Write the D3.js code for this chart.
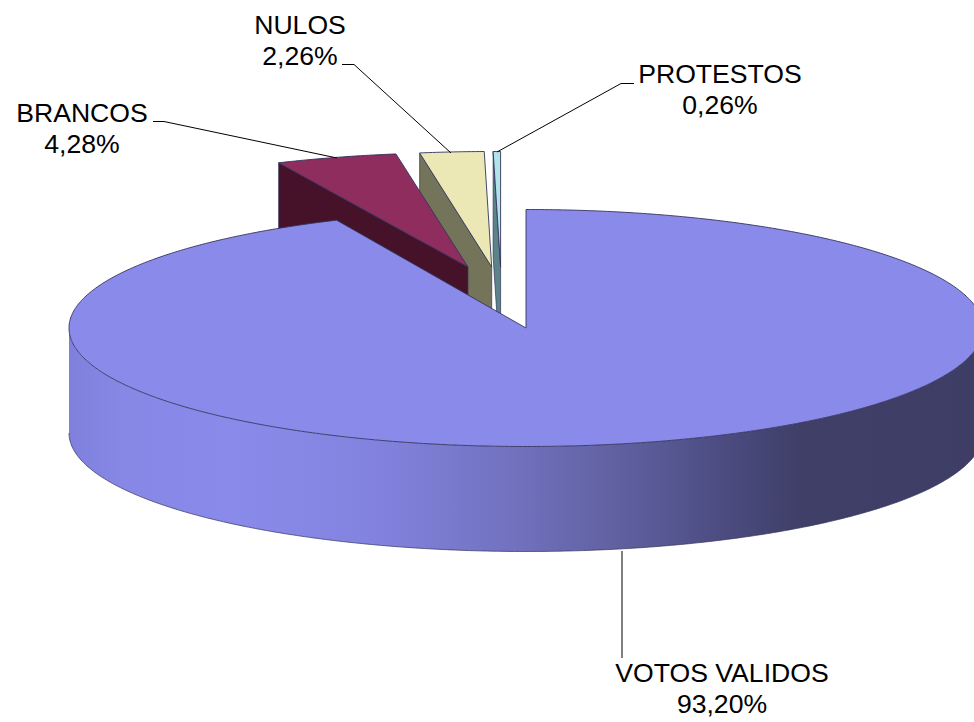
<!DOCTYPE html>
<html>
<head>
<meta charset="utf-8">
<script src="https://cdn.jsdelivr.net/npm/d3@7"></script>
<style>
	html, body { margin: 0; padding: 0; background: #fff; }
	svg { display: block; }
	text { font-family: "Liberation Sans", Arial, sans-serif; font-size: 26.6px; fill: #000; }
</style>
</head>
<body>
<svg id="chart"></svg>
<script>
/*=================
=== Data
=================*/
var categories = ['VOTOS VALIDOS', 'BRANCOS', 'NULOS', 'PROTESTOS'];
var values = [93.20, 4.28, 2.26, 0.26];
var valueLabels = ['93,20%', '4,28%', '2,26%', '0,26%'];

/*=================
=== Layout
=================*/
var width = 974;
var height = 722;

var cx = 526, cy = 328;
var rx = 457, ry = 118.5;
var depth = 105;

var topColors = ['#8a8aeb', '#8e2d5e', '#ebe8b5', '#b0e4e8'];
var wallColors = ['#3d3d66', '#45122a', '#74745a', '#5c8488'];
var edgeColor = '#33335c';

// exploded slices: where the tip lands
var tips = [[cx, cy], [468, 267], [491.7, 267], [500.6, 267]];
var sliceRy = [ry, 114.5, 115.5, 115.5];

// label anchors (centre x, first baseline)
var labelPos = [[722, 682], [82, 122], [300, 34], [720, 83]];
var lineGap = 31;

// leader lines, label end first
var leaders = [
	[[622, 658], [622, 551]],
	[[153, 121.5], [164, 121.5], [337, 158]],
	[[342, 64.5], [354, 64.5], [451, 153]],
	[[634, 83.5], [621, 83.5], [497, 152]]
];

var svg = d3.select('#chart')
	.attr('width', width)
	.attr('height', height)
	.attr('viewBox', `0 0 ${width} ${height}`);

// side wall shading runs left to right across the pie
var grad = svg.append('defs').append('linearGradient')
	.attr('id', 'wall-shade')
	.attr('gradientUnits', 'userSpaceOnUse')
	.attr('x1', cx - rx).attr('x2', cx + rx)
	.attr('y1', 0).attr('y2', 0);

[
	[0, '#7f7fdc'],
	[0.06, '#8787e6'],
	[0.18, '#8a8aeb'],
	[0.34, '#8282de'],
	[0.48, '#7272c0'],
	[0.62, '#5d5d9c'],
	[0.72, '#4b4b80'],
	[0.8, '#3f3f68'],
	[1, '#3d3d66']
].forEach(s => grad.append('stop').attr('offset', s[0]).attr('stop-color', s[1]));

/*=================
=== Slices
=================*/
var pie = d3.pie().sort(null).value(d => d);
var arcs = pie(values);

var line = d3.line();

function project(i, a, drop) {
	return [
		tips[i][0] + rx * Math.sin(a),
		tips[i][1] - sliceRy[i] * Math.cos(a) + (drop || 0)
	];
}

function rim(i, a0, a1, drop) {
	var n = Math.max(2, Math.ceil((a1 - a0) / 0.01));
	return d3.range(n + 1).map(k => project(i, a0 + (a1 - a0) * k / n, drop));
}

var pieG = svg.append('g').attr('class', 'pie');

// back to front: the small slices sit behind the big one
d3.range(arcs.length - 1, 0, -1).forEach(i => {
	var d = arcs[i];
	var g = pieG.append('g').attr('class', 'slice');
	var tip = tips[i];
	var outer = project(i, d.startAngle);

	g.append('path')
		.attr('d', line([outer, tip, [tip[0], tip[1] + depth], [outer[0], outer[1] + depth]]) + 'Z')
		.attr('fill', wallColors[i])
		.attr('stroke', edgeColor)
		.attr('stroke-width', 0.7);

	g.append('path')
		.attr('d', line([tip].concat(rim(i, d.startAngle, d.endAngle))) + 'Z')
		.attr('fill', topColors[i])
		.attr('stroke', edgeColor)
		.attr('stroke-width', 0.9);
});

// big slice: curved wall only on the front half
var big = arcs[0];
var frontStart = Math.PI / 2;
var frontEnd = Math.PI * 1.5;

pieG.append('path')
	.attr('class', 'wall')
	.attr('d', line(rim(0, frontStart, frontEnd).concat(rim(0, frontStart, frontEnd, depth).reverse())) + 'Z')
	.attr('fill', 'url(#wall-shade)');

// only the lower rim gets an outline, the upright sides stay soft
pieG.append('path')
	.attr('class', 'wall-edge')
	.attr('d', line(rim(0, frontStart, frontEnd, depth)))
	.attr('fill', 'none')
	.attr('stroke', edgeColor)
	.attr('stroke-width', 0.7);

pieG.append('path')
	.attr('class', 'top')
	.attr('d', line([tips[0]].concat(rim(0, big.startAngle, big.endAngle))) + 'Z')
	.attr('fill', topColors[0])
	.attr('stroke', edgeColor)
	.attr('stroke-width', 0.9);

/*=================
=== Leaders and labels
=================*/
svg.append('g').selectAll('path')
	.data(leaders)
	.enter()
	.append('path')
	.attr('d', d => line(d))
	.attr('fill', 'none')
	.attr('stroke', '#000')
	.attr('stroke-width', 1);

var labels = svg.append('g').selectAll('text')
	.data(categories)
	.enter()
	.append('text')
	.attr('text-anchor', 'middle')
	.attr('x', (d, i) => labelPos[i][0])
	.attr('y', (d, i) => labelPos[i][1]);

labels.append('tspan')
	.text(d => d);

labels.append('tspan')
	.attr('x', (d, i) => labelPos[i][0])
	.attr('dy', lineGap)
	.text((d, i) => valueLabels[i]);
</script>
</body>
</html>
